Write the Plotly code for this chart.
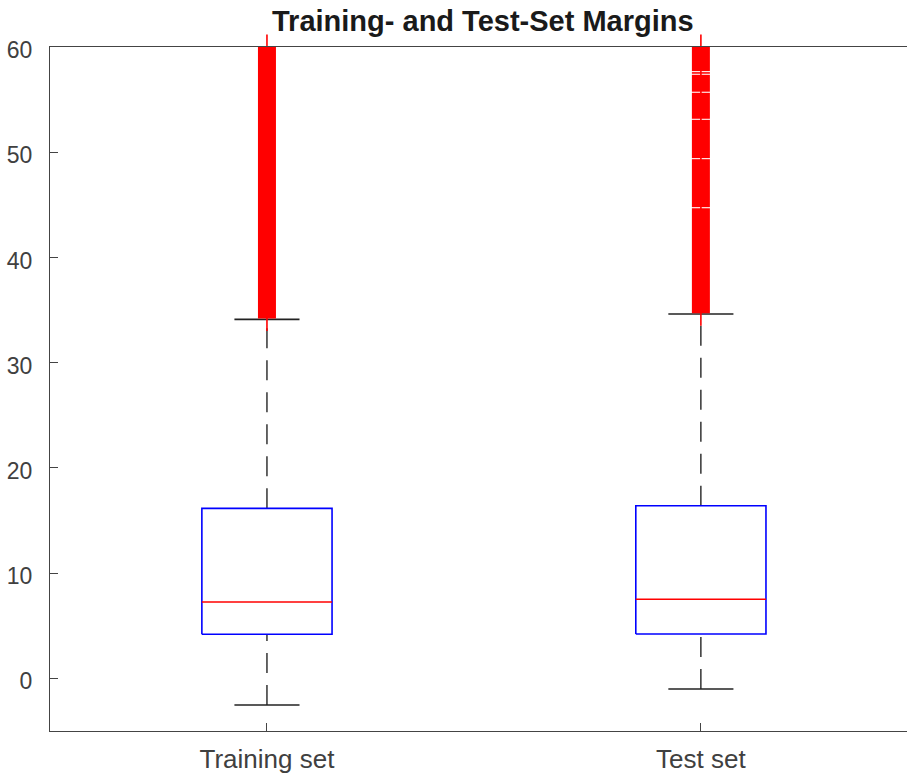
import plotly.graph_objects as go

# ---------------- data ----------------
categories = ["Training set", "Test set"]
positions = [1, 2]
q1 = [4.19, 4.22]
median = [7.26, 7.52]
q3 = [16.16, 16.41]
lower_whisker = [-2.53, -1.01]
upper_whisker = [34.12, 34.63]
# dense runs of outlier '+' markers (start, end), one list per group
train_outlier_runs = [[34.2, 60.0]]
test_outlier_runs = [[34.7, 44.68], [44.78, 49.34], [49.44, 53.08],
                     [53.18, 55.65], [55.75, 57.36], [57.46, 57.61],
                     [57.71, 60.0]]
y_ticks = [0, 10, 20, 30, 40, 50, 60]
title_text = "Training- and Test-Set Margins"

# ---------------- style ----------------
FONT = "Liberation Sans, Arial, Helvetica, sans-serif"
BOX_HALF = 0.15
CAP_HALF = 0.075
OUT_PX = 18

fig = go.Figure()

for i, xc in enumerate(positions):
    # lower whisker (drawn upward from whisker end to box)
    fig.add_trace(go.Scatter(
        x=[xc, xc], y=[lower_whisker[i], q1[i]], mode="lines",
        line=dict(color="black", width=1.2, dash="20px,12px"),
        hoverinfo="skip", showlegend=False))
    # upper whisker (drawn upward from box to whisker end)
    fig.add_trace(go.Scatter(
        x=[xc, xc], y=[q3[i], upper_whisker[i]], mode="lines",
        line=dict(color="black", width=1.2, dash="20px,12px"),
        hoverinfo="skip", showlegend=False))
    # caps
    for w in (lower_whisker[i], upper_whisker[i]):
        fig.add_trace(go.Scatter(
            x=[xc - CAP_HALF, xc + CAP_HALF], y=[w, w], mode="lines",
            line=dict(color="#222222", width=1.6),
            hoverinfo="skip", showlegend=False))
    # box
    fig.add_trace(go.Scatter(
        x=[xc - BOX_HALF, xc + BOX_HALF, xc + BOX_HALF, xc - BOX_HALF, xc - BOX_HALF],
        y=[q1[i], q1[i], q3[i], q3[i], q1[i]], mode="lines",
        line=dict(color="#0000ff", width=1.6),
        hoverinfo="skip", showlegend=False))
    # median
    fig.add_trace(go.Scatter(
        x=[xc - BOX_HALF, xc + BOX_HALF], y=[median[i], median[i]], mode="lines",
        line=dict(color="#ff0000", width=1.3),
        hoverinfo="skip", showlegend=False))

# outliers
for xc, runs in zip(positions, [train_outlier_runs, test_outlier_runs]):
    lo = min(r[0] for r in runs)
    hi = max(r[1] for r in runs)
    for a, b in runs:
        fig.add_trace(go.Scatter(
            x=[xc, xc], y=[a, b], mode="lines",
            line=dict(color="#ff0000", width=OUT_PX),
            hoverinfo="skip", showlegend=False))
    fig.add_trace(go.Scatter(
        x=[xc, xc], y=[lo, hi], mode="lines",
        line=dict(color="#ff0000", width=1.6),
        hoverinfo="skip", showlegend=False))
    fig.add_trace(go.Scatter(
        x=[xc, xc], y=[lo, hi], mode="markers", cliponaxis=False,
        marker=dict(symbol="line-ns", size=OUT_PX,
                    line=dict(color="#ff0000", width=1.6)),
        hoverinfo="skip", showlegend=False))

fig.add_annotation(
    text="<b>" + title_text + "</b>", xref="paper", yref="paper",
    x=0.5058, y=1, xanchor="center", yanchor="bottom", yshift=8,
    showarrow=False, font=dict(family=FONT, size=29, color="#1a1a1a"))

fig.update_layout(
    width=907, height=776,
    margin=dict(l=50, r=0, t=47, b=45),
    paper_bgcolor="white", plot_bgcolor="white",
    showlegend=False,
    xaxis=dict(range=[0.5, 2.475], tickvals=positions, ticktext=categories,
               automargin=False,
               ticks="inside", ticklen=8, tickwidth=1.2, tickcolor="#444444",
               showline=True, mirror=True, linecolor="#444444", linewidth=1.3,
               showgrid=False, zeroline=False, ticklabelstandoff=5,
               tickfont=dict(family=FONT, size=26, color="#404040")),
    yaxis=dict(range=[-5, 60], tickvals=y_ticks,
               automargin=False,
               ticks="inside", ticklen=8, tickwidth=1.2, tickcolor="#444444",
               showline=True, mirror=False, linecolor="#444444", linewidth=1.3,
               showgrid=False, zeroline=False, ticklabelstandoff=12,
               ticklabelshift=3,
               tickfont=dict(family=FONT, size=23, color="#404040")),
)

fig.write_html(
    "out.html",
    config={"displayModeBar": False},
    post_script="document.body.style.margin='0px';"
                "document.body.style.overflow='hidden';",
)
